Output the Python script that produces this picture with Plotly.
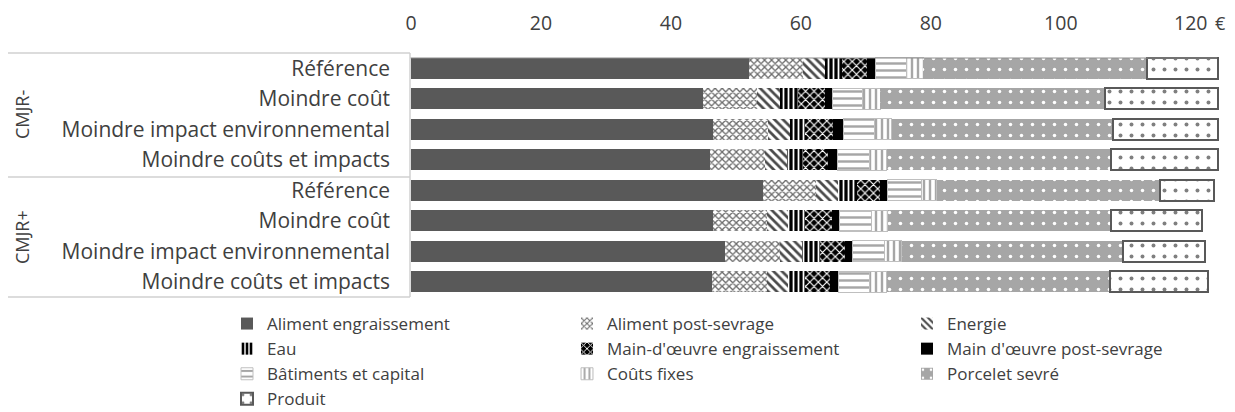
import plotly.graph_objects as go

groups = ["CMJR-", "CMJR+"]
scenarios = ["Référence", "Moindre coût", "Moindre impact environnemental", "Moindre coûts et impacts"]
categories = scenarios + scenarios

aliment_engraissement = [52.0, 44.9, 46.5, 46.0, 54.2, 46.5, 48.3, 46.3]
aliment_post_sevrage = [8.3, 8.3, 8.4, 8.5, 8.2, 8.3, 8.5, 8.5]
energie = [3.4, 3.6, 3.4, 3.3, 3.3, 3.2, 3.4, 3.2]
eau = [2.6, 2.7, 2.3, 2.5, 2.9, 2.6, 2.7, 2.6]
mo_engraissement = [3.8, 4.2, 4.3, 3.9, 3.6, 4.2, 3.9, 3.9]
mo_post_sevrage = [1.4, 1.1, 1.6, 1.5, 1.2, 1.2, 1.2, 1.3]
batiments = [4.7, 4.7, 4.9, 4.9, 5.2, 4.9, 4.9, 4.8]
couts_fixes = [2.6, 2.7, 2.6, 2.6, 2.3, 2.5, 2.6, 2.6]
porcelet_sevre = [34.4, 34.6, 34.0, 34.6, 34.3, 34.4, 34.0, 34.3]
produit = [11.0, 17.4, 16.2, 16.4, 8.3, 14.0, 12.7, 15.1]

x_ticks = [0, 20, 40, 60, 80, 100, 120]
unit_label = "€"

def pat(shape, fg, size, sol):
    return dict(shape=shape, fgcolor=fg, size=size, solidity=sol, fillmode="overlay", fgopacity=1)

# (name, values, marker, legend column)
series = [
    ("Aliment engraissement", aliment_engraissement, dict(color="#595959"), "legend"),
    ("Aliment post-sevrage", aliment_post_sevrage, dict(color="white", pattern=pat("x", "#6b6b6b", 5, 0.45)), "legend2"),
    ("Energie", energie, dict(color="white", pattern=pat("\\", "#4a4a4a", 6, 0.45)), "legend3"),
    ("Eau", eau, dict(color="black", pattern=pat("|", "white", 5, 0.35)), "legend"),
    ("Main-d'œuvre engraissement", mo_engraissement, dict(color="black", pattern=pat("x", "white", 6, 0.35)), "legend2"),
    ("Main d'œuvre post-sevrage", mo_post_sevrage, dict(color="black"), "legend3"),
    ("Bâtiments et capital", batiments, dict(color="white", pattern=pat("-", "#a6a6a6", 7, 0.35),
                                             line=dict(color="#bfbfbf", width=1)), "legend"),
    ("Coûts fixes", couts_fixes, dict(color="white", pattern=pat("|", "#a6a6a6", 6, 0.4),
                                      line=dict(color="#bfbfbf", width=1)), "legend2"),
    ("Porcelet sevré", porcelet_sevre, dict(color="#a6a6a6", pattern=pat(".", "white", 11, 0.08)), "legend3"),
    ("Produit", produit, dict(color="white", pattern=pat(".", "#7f7f7f", 11, 0.1),
                              line=dict(color="#595959", width=2)), "legend"),
]

ypos = list(range(len(categories)))

fig = go.Figure()
for name, vals, marker, lg in series:
    m = dict(marker)
    if "line" not in m:
        m["line"] = dict(width=0)
    fig.add_trace(go.Bar(y=ypos, x=vals, name=name, orientation="h", marker=m, legend=lg))

# page body has an 8px margin: compensate so the plot lands where the reference has it
OFF = 8
W, H = 1235 - OFF, 412 - OFF
L, R, T, B = 411 - OFF, 15, 53 - OFF, 115
pw = W - L - R
ph = H - T - B

def px_x(p):  # screen pixel -> paper
    return (p - OFF - L) / pw

def px_y(p):
    return 1 - (p - OFF - T) / ph

FONT = "Open Sans"
TXT = "#404040"

leg_common = dict(orientation="v", xanchor="left", yanchor="top", traceorder="normal",
                  font=dict(family=FONT, size=17, color=TXT), itemwidth=30,
                  bgcolor="rgba(0,0,0,0)", borderwidth=0)

fig.update_layout(
    width=W, height=H,
    margin=dict(l=L, r=R, t=T, b=B, autoexpand=False),
    paper_bgcolor="white", plot_bgcolor="white",
    barmode="stack", bargap=0.31,
    font=dict(family=FONT, color=TXT, size=16),
    xaxis=dict(range=[0, 124.5], side="top", tickvals=x_ticks, ticks="",
               showgrid=False, zeroline=False, showline=False, automargin=False,
               tickfont=dict(size=19.5, color=TXT), ticklabelstandoff=18),
    yaxis=dict(tickvals=ypos, ticktext=categories, autorange=False, range=[7.5, -0.5],
               showgrid=False, zeroline=False, showline=False, ticks="", automargin=False,
               tickfont=dict(size=21, color=TXT), ticklabelstandoff=20),
    legend=dict(x=px_x(227), y=px_y(306), **leg_common),
    legend2=dict(x=px_x(567), y=px_y(306), **leg_common),
    legend3=dict(x=px_x(907), y=px_y(306), **leg_common),
    showlegend=True,
)

# top axis line
fig.add_shape(type="line", xref="paper", yref="paper", x0=px_x(410), x1=px_x(1217),
              y0=px_y(58), y1=px_y(58), line=dict(color="#8c8c8c", width=1))
# group bracket lines
for yy in [53, 177, 297]:
    fig.add_shape(type="line", xref="paper", yref="paper", x0=px_x(5), x1=px_x(410),
                  y0=px_y(yy), y1=px_y(yy), line=dict(color="#d0d0d0", width=1.5))
fig.add_shape(type="line", xref="paper", yref="paper", x0=px_x(410), x1=px_x(410),
              y0=px_y(53), y1=px_y(297), line=dict(color="#d0d0d0", width=1.5))

for g, yc in zip(groups, [115, 237]):
    fig.add_annotation(text=g, xref="paper", yref="paper", x=px_x(22), y=px_y(yc),
                       xanchor="center", yanchor="middle",
                       textangle=-90, showarrow=False, font=dict(size=18, color=TXT))

fig.add_annotation(text=unit_label, xref="paper", yref="paper", x=px_x(1220), y=px_y(23),
                   xanchor="center", yanchor="middle",
                   showarrow=False, font=dict(size=18, color=TXT))

fig.write_html("out.html")
